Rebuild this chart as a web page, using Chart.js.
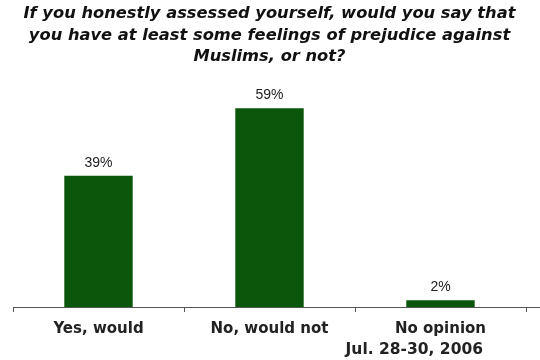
<!DOCTYPE html>
<html><head><meta charset="utf-8">
<script src="https://cdn.jsdelivr.net/npm/chart.js@4/dist/chart.umd.min.js"></script>
<style>html,body{margin:0;padding:0;background:#fff}#wrap{width:540px;height:360px;position:relative}</style>
</head><body><div id="wrap"><canvas id="c" width="540" height="360"></canvas></div>
<script>
const categories = ["Yes, would", "No, would not", "No opinion"];
const values = [39, 59, 2];
const valueLabels = ["39%", "59%", "2%"];
const titleLines = ["If you honestly assessed yourself, would you say that", "you have at least some feelings of prejudice against", "Muslims, or not?"];
const dateNote = "Jul. 28-30, 2006";

const barLabels = {
  id: 'barLabels',
  afterDatasetsDraw(chart) {
    const ctx = chart.ctx;
    const meta = chart.getDatasetMeta(0);
    ctx.save();
    ctx.font = '14px "Liberation Sans", Arial, sans-serif';
    ctx.fillStyle = '#222';
    ctx.textAlign = 'center';
    ctx.textBaseline = 'bottom';
    meta.data.forEach((b, i) => { ctx.fillText(valueLabels[i], b.x, b.y - 6); });
    ctx.font = 'bold 15.5px "DejaVu Sans", sans-serif';
    ctx.textAlign = 'right';
    ctx.textBaseline = 'middle';
    ctx.fillText(dateNote, 483, 350);
    ctx.strokeStyle = '#555';
    ctx.lineWidth = 1;
    ctx.beginPath();
    ctx.moveTo(chart.chartArea.right, Math.round(chart.chartArea.bottom) + 0.5);
    ctx.lineTo(540, Math.round(chart.chartArea.bottom) + 0.5);
    ctx.stroke();
    ctx.restore();
  }
};

new Chart(document.getElementById('c'), {
  type: 'bar',
  data: { labels: categories, datasets: [{ data: values, backgroundColor: '#0a560a', borderWidth: 0, categoryPercentage: 0.8, barPercentage: 0.5 }] },
  options: {
    responsive: false, animation: false,
    layout: { padding: { left: 13, right: 14, top: 0, bottom: 14 } },
    plugins: {
      legend: { display: false }, tooltip: { enabled: false },
      title: { display: true, text: titleLines, color: '#111', font: { family: '"DejaVu Sans", sans-serif', size: 16.3, weight: 'bold', style: 'italic', lineHeight: 1.33 }, padding: { top: 3, bottom: 10 } }
    },
    scales: {
      x: {
        offset: true,
        grid: { display: true, drawOnChartArea: false, offset: true, tickLength: 5, color: '#555', tickColor: '#555' },
        border: { display: true, color: '#555', width: 1 },
        ticks: { color: '#222', font: { family: '"DejaVu Sans", sans-serif', size: 15, weight: 'bold' }, padding: 8 }
      },
      y: { display: false, min: 0, max: 68 }
    }
  },
  plugins: [barLabels]
});
</script></body></html>
